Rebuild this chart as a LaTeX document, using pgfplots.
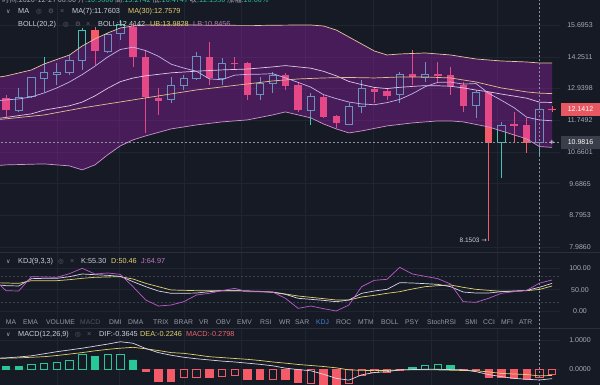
\documentclass[border=0pt]{standalone}
\usepackage{pgfplots}
\pgfplotsset{compat=1.18}
\usepackage{pgfplotstable}
\usepackage{fontspec}
\setmainfont{Liberation Sans}
\newfontfamily\cjk{Noto Sans CJK SC}
\newfontfamily\dv{DejaVu Sans}

\definecolor{bg}{RGB}{22,26,37}
\definecolor{gridc}{RGB}{32,37,50}
\definecolor{sepc}{RGB}{42,47,60}
\definecolor{upc}{RGB}{70,195,185}
\definecolor{dnc}{RGB}{245,90,105}
\definecolor{macdup}{RGB}{40,200,150}
\definecolor{bandc}{RGB}{189,33,207}
\definecolor{ubc}{RGB}{232,196,160}
\definecolor{lbc}{RGB}{205,150,205}
\definecolor{midc}{RGB}{225,200,235}
\definecolor{ma7c}{RGB}{195,180,240}
\definecolor{ma30c}{RGB}{228,190,145}
\definecolor{kc}{RGB}{215,215,235}
\definecolor{dc}{RGB}{226,210,110}
\definecolor{jc}{RGB}{190,90,205}
\definecolor{labc}{RGB}{168,172,185}
\definecolor{txtc}{RGB}{205,208,220}
\definecolor{yelc}{RGB}{226,210,110}
\definecolor{purc}{RGB}{190,120,195}
\definecolor{redc}{RGB}{235,100,110}
\definecolor{iconc}{RGB}{95,100,115}
\definecolor{hairc}{RGB}{140,145,160}
\definecolor{greenc}{RGB}{40,195,150}
\definecolor{redbox}{RGB}{232,88,98}
\definecolor{graybox}{RGB}{58,62,74}
\definecolor{tabc}{RGB}{150,155,170}
\definecolor{tabdim}{RGB}{80,85,100}
\definecolor{tabblue}{RGB}{70,125,220}
\definecolor{dashc}{RGB}{60,65,80}

\pgfplotsset{
  panel/.style={anchor=south west, scale only axis, width=560pt,
    xmin=-0.4724, xmax=43.62,
    axis line style={draw=none}, major tick length=0pt,
    xtick={4,8.9,14,18.5,23.6,28.9,33.5,38.7}, xticklabels={},
    grid=major, major grid style={draw=gridc, line width=0.5pt},
    yticklabel pos=right,
    yticklabel style={font=\fontsize{7}{8}\selectfont, text=labc, anchor=center, xshift=20pt},
  },
}
% candle parts: wick (index, low, high, colour); filled body (index, low, high); hollow body (left, right, low, high)
\newcommand\cwick[4]{\addplot[#4, line width=0.8pt] coordinates {(#1,#2) (#1,#3)};}
\newcommand\cbody[3]{\addplot[dnc, line width=7.4pt] coordinates {(#1,#2) (#1,#3)};}
\newcommand\chol[4]{\addplot[draw=upc, fill=bg, line width=0.8pt] coordinates {(#1,#3) (#2,#3) (#2,#4) (#1,#4)} -- cycle;}
\newcommand\T[4][txtc]{\node[anchor=base west,inner sep=0,text=#1,font=\fontsize{#4}{#4}\selectfont] at (#2) {#3};}

\pgfplotstableread{
i p
-1 13.361
0 13.442
2 13.690
3 13.941
5 14.328
6 14.725
7 15.042
8 15.318
9 15.553
10 15.648
11 15.695
14 15.700
17 15.680
20 15.675
22 15.690
24 15.695
25 15.648
26 15.458
27 15.133
28 14.815
29 14.503
30 14.328
31 14.371
33 14.415
35 14.328
37 14.155
39 14.069
41 14.026
42 13.983
43 13.980
}\ubtab

\pgfplotstableread{
i p
-1 10.227
0 10.258
3 10.289
5 10.227
6 10.104
7 10.258
8 10.575
9 10.868
10 11.068
11 11.203
13 11.444
15 11.583
17 11.690
19 11.761
21 11.941
22 12.050
23 11.941
24 11.833
25 11.618
26 11.444
27 11.305
28 11.374
30 11.548
32 11.654
34 11.725
35 11.725
36 11.690
38 11.513
39 11.374
40 11.237
41 11.102
42 10.846
43 10.820
}\lbtab

\pgfplotstableread{
i p
-1 11.794
0 11.850
2 11.980
3 12.115
5 12.278
6 12.415
7 12.650
8 12.947
9 13.211
10 13.358
11 13.449
13 13.570
15 13.639
17 13.693
19 13.728
21 13.818
22 13.873
23 13.818
24 13.764
25 13.633
26 13.451
27 13.219
28 13.095
29 12.982
30 12.938
31 12.986
32 13.022
33 13.053
34 13.048
35 13.027
36 12.965
37 12.878
38 12.812
39 12.722
40 12.644
41 12.564
42 12.414
43 12.400
}\midtab

\pgfplotstableread{
i p
-1 12.459
0 12.497
1 12.535
2 12.612
3 12.766
4 12.961
5 13.199
6 13.499
7 13.848
8 14.237
9 14.569
10 14.672
11 14.521
12 14.272
13 13.933
14 13.769
15 13.636
16 13.324
17 13.288
18 13.475
19 13.508
20 13.516
21 13.536
22 13.365
23 13.183
24 12.993
25 12.700
26 12.548
27 12.418
28 12.346
29 12.317
30 12.395
31 12.517
32 12.736
33 13.009
34 13.183
35 13.195
36 13.113
37 13.136
38 12.752
39 12.486
40 12.208
41 11.858
42 11.760
43 11.730
}\maseven

\pgfplotstableread{
i p
-1 11.760
0 11.800
3 11.940
6 12.197
9 12.421
11 12.574
13 12.728
15 12.883
17 13.001
19 13.120
21 13.240
23 13.320
25 13.361
27 13.381
29 13.361
31 13.401
33 13.401
35 13.361
36 13.280
37 13.199
38 13.080
39 12.961
40 12.883
41 12.805
42 12.758
43 12.740
}\mathirty

\pgfplotstableread{
i K D J
-1 62 66 75
0 59.2 65.3 47.6
1 58.4 64.5 46.8
2 75.3 70.7 79.9
3 76.1 70.7 79.2
4 76.1 70.7 78.4
5 79.9 73.0 86.9
6 86.1 76.1 99.2
7 84.5 78.4 86.1
8 83.0 79.2 88.4
9 80.7 79.9 85.3
10 68.4 74.5 56.8
11 56.8 64.5 26.1
12 46.8 56.8 12.2
13 41.5 49.2 14.5
14 41.5 48.4 22.2
15 42.2 47.6 37.6
16 45.3 47.6 41.5
17 47.6 47.6 47.6
18 47.6 47.6 53.0
19 46.8 46.8 45.3
20 45.3 46.1 45.3
21 43.8 44.5 44.5
22 39.2 39.9 30.0
23 30.0 35.3 6.8
24 27.6 32.2 12.2
25 25.3 29.2 6.1
26 22.2 26.1 0.7
27 26.1 26.1 14.5
28 41.5 33.0 56.8
29 46.8 36.8 71.5
30 50.7 41.5 73.8
31 66.1 45.3 101.5
32 65.3 51.5 86.1
33 63.8 56.8 80.7
34 62.2 59.2 75.3
35 56.8 60.7 63.0
36 44.5 55.3 22.2
37 42.2 50.7 20.7
38 42.2 48.4 30.0
39 45.3 46.1 41.5
40 46.8 46.1 45.3
41 48.4 47.6 48.4
42 55.30 50.46 64.97
43 64.5 58.4 72.2
}\kdjtab

\pgfplotstableread{
i DIF DEA
-1 0.37 0.38
0 0.39 0.38
1 0.42 0.39
2 0.46 0.41
3 0.53 0.43
4 0.60 0.47
5 0.66 0.52
6 0.72 0.57
7 0.79 0.63
8 0.86 0.68
9 0.94 0.72
10 0.89 0.75
11 0.71 0.70
12 0.57 0.64
13 0.48 0.57
14 0.41 0.545
15 0.36 0.49
16 0.32 0.43
17 0.28 0.40
18 0.25 0.37
19 0.21 0.34
20 0.17 0.30
21 0.12 0.25
22 0.04 0.21
23 -0.01 0.165
24 -0.05 0.13
25 -0.17 0.095
26 -0.31 0.05
27 -0.37 -0.02
28 -0.19 -0.035
29 -0.11 -0.045
30 -0.08 -0.04
31 -0.02 -0.02
32 -0.01 -0.02
33 0.00 -0.02
34 0.00 -0.02
35 -0.01 -0.03
36 -0.02 -0.04
37 -0.08 -0.05
38 -0.18 -0.09
39 -0.25 -0.14
40 -0.31 -0.16
41 -0.34 -0.18
42 -0.3645 -0.2246
43 -0.32 -0.21
}\macdtab

\begin{document}
\begin{tikzpicture}
\path[use as bounding box] (0pt,0pt) rectangle (600pt,385pt);
\fill[bg] (0pt,0pt) rectangle (600pt,385pt);

% ---------------- main price panel ----------------
\begin{axis}[panel, at={(0pt,133pt)}, height=252pt, ymode=log, ymin=7.8728, ymax=16.935,
  ytick={7.9860,8.7953,9.6865,10.6601,11.7492,12.9398,14.2511,15.6953},
  yticklabels={7.9860,8.7953,9.6865,10.6601,11.7492,12.9398,14.2511,15.6953}]
\cwick{0}{11.87}{12.69}{dnc}\cbody{0}{12.12}{12.59}
\cwick{1}{12.05}{12.96}{upc}\chol{0.71}{1.29}{12.12}{12.59}
\cwick{2}{12.57}{13.40}{upc}\chol{1.71}{2.29}{12.62}{13.37}
\cwick{3}{12.80}{14.24}{upc}\chol{2.71}{3.29}{13.36}{13.57}
\cwick{4}{13.08}{13.98}{upc}\chol{3.71}{4.29}{13.52}{13.57}
\cwick{5}{13.48}{14.33}{upc}\chol{4.71}{5.29}{13.60}{14.08}
\cwick{6}{13.69}{15.55}{upc}\chol{5.71}{6.29}{14.08}{15.46}
\cwick{7}{13.90}{15.60}{dnc}\cbody{7}{14.50}{15.46}
\cwick{8}{14.42}{15.32}{upc}\chol{7.71}{8.29}{14.50}{15.27}
\cwick{9}{15.00}{15.94}{upc}\chol{8.71}{9.29}{15.30}{15.70}
\cwick{10}{13.82}{15.79}{dnc}\cbody{10}{14.25}{15.61}
\cwick{11}{11.31}{14.55}{dnc}\cbody{11}{12.62}{14.25}
\cwick{12}{11.94}{12.96}{dnc}\cbody{12}{12.47}{12.56}
\cwick{13}{12.38}{13.40}{upc}\chol{12.71}{13.29}{12.50}{13.08}
\cwick{14}{12.88}{13.48}{upc}\chol{13.71}{14.29}{13.08}{13.35}
\cwick{15}{13.28}{14.46}{upc}\chol{14.71}{15.29}{13.35}{14.25}
\cwick{16}{13.08}{14.91}{dnc}\cbody{16}{13.35}{14.25}
\cwick{17}{13.08}{14.20}{upc}\chol{16.71}{17.29}{13.35}{13.98}
\cwick{18}{13.69}{14.24}{dnc}\cbody{18}{13.92}{14.00}
\cwick{19}{12.50}{14.03}{dnc}\cbody{19}{12.69}{13.97}
\cwick{20}{12.50}{13.40}{upc}\chol{19.71}{20.29}{12.69}{13.15}
\cwick{21}{12.77}{13.61}{upc}\chol{20.71}{21.29}{13.15}{13.48}
\cwick{22}{12.88}{13.57}{dnc}\cbody{22}{13.04}{13.48}
\cwick{23}{12.05}{13.16}{dnc}\cbody{23}{12.12}{13.08}
\cwick{24}{11.58}{12.77}{upc}\chol{23.71}{24.29}{12.12}{12.62}
\cwick{25}{11.83}{12.69}{dnc}\cbody{25}{11.88}{12.62}
\cwick{26}{11.48}{11.94}{dnc}\cbody{26}{11.64}{11.91}
\cwick{27}{11.58}{12.38}{upc}\chol{26.71}{27.29}{11.61}{12.25}
\cwick{28}{12.01}{13.28}{upc}\chol{27.71}{28.29}{12.25}{12.95}
\cwick{29}{12.38}{13.01}{dnc}\cbody{29}{12.82}{12.92}
\cwick{30}{12.50}{12.96}{dnc}\cbody{30}{12.66}{12.84}
\cwick{31}{12.38}{13.62}{upc}\chol{30.71}{31.29}{12.69}{13.51}
\cwick{32}{13.08}{14.55}{dnc}\cbody{32}{13.41}{13.51}
\cwick{33}{13.21}{14.04}{upc}\chol{32.71}{33.29}{13.37}{13.51}
\cwick{34}{13.21}{14.04}{dnc}\cbody{34}{13.44}{13.51}
\cwick{35}{12.69}{13.83}{dnc}\cbody{35}{13.05}{13.48}
\cwick{36}{12.06}{13.21}{dnc}\cbody{36}{12.28}{13.08}
\cwick{37}{11.83}{12.88}{upc}\chol{36.71}{37.29}{12.28}{12.79}
\cwick{38}{8.1503}{12.82}{dnc}\cbody{38}{10.98}{12.79}
\cwick{39}{9.86}{11.70}{upc}\chol{38.71}{39.29}{10.98}{11.58}
\cwick{40}{10.98}{12.06}{dnc}\cbody{40}{11.55}{11.61}
\cwick{41}{10.65}{11.83}{dnc}\cbody{41}{10.98}{11.58}
\cwick{42}{10.58}{12.37}{upc}\chol{41.71}{42.29}{10.98}{12.14}
\cwick{43}{12.05}{12.27}{dnc}\cbody{43}{12.12}{12.16}
% Bollinger band area (upper band forward, lower band back)
\addplot[fill=bandc, fill opacity=0.3, draw=none] coordinates {
(-1,13.361) (0,13.442) (2,13.690) (3,13.941) (5,14.328) (6,14.725) (7,15.042) (8,15.318)
(9,15.553) (10,15.648) (11,15.695) (14,15.700) (17,15.680) (20,15.675) (22,15.690) (24,15.695)
(25,15.648) (26,15.458) (27,15.133) (28,14.815) (29,14.503) (30,14.328) (31,14.371) (33,14.415)
(35,14.328) (37,14.155) (39,14.069) (41,14.026) (42,13.983) (43,13.980)
(43,10.820) (42,10.846) (41,11.102) (40,11.237) (39,11.374) (38,11.513) (36,11.690) (35,11.725)
(34,11.725) (32,11.654) (30,11.548) (28,11.374) (27,11.305) (26,11.444) (25,11.618) (24,11.833)
(23,11.941) (22,12.050) (21,11.941) (19,11.761) (17,11.690) (15,11.583) (13,11.444) (11,11.203)
(10,11.068) (9,10.868) (8,10.575) (7,10.258) (6,10.104) (5,10.227) (3,10.289) (0,10.258) (-1,10.227)} -- cycle;
\addplot[ubc, line width=0.7pt] table[x=i,y=p] {\ubtab};
\addplot[lbc, line width=0.7pt] table[x=i,y=p] {\lbtab};
\addplot[midc, line width=0.7pt] table[x=i,y=p] {\midtab};
\addplot[ma30c, line width=0.7pt] table[x=i,y=p] {\mathirty};
\addplot[ma7c, line width=0.7pt] table[x=i,y=p] {\maseven};
\addplot[hairc, line width=0.5pt, dash pattern=on 2pt off 2pt] coordinates {(-1,10.9816) (44,10.9816)};
\end{axis}

% ---------------- KDJ panel ----------------
\begin{axis}[panel, at={(0pt,67pt)}, height=66pt, ymin=-15.46, ymax=136.86,
  ytick={0,50,100}, yticklabels={0.00,50.00,100.00}]
\addplot[dashc, line width=0.5pt, dash pattern=on 2pt off 2pt] coordinates {(-1,80) (44,80)};
\addplot[dashc, line width=0.5pt, dash pattern=on 2pt off 2pt] coordinates {(-1,20) (44,20)};
\addplot[dc, line width=0.7pt] table[x=i,y=D] {\kdjtab};
\addplot[kc, line width=0.7pt] table[x=i,y=K] {\kdjtab};
\addplot[jc, line width=0.7pt] table[x=i,y=J] {\kdjtab};
\end{axis}

% ---------------- MACD panel ----------------
\begin{axis}[panel, at={(0pt,0pt)}, height=57pt, ymin=-0.5358, ymax=1.4096,
  ytick={0,1}, yticklabels={0.0000,1.0000}]
\addplot[ybar, bar width=0.58, bar shift=0pt, draw=macdup, fill=macdup, line width=0.7pt]
  coordinates {(0,0.09) (1,0.09) (7,0.43) (10,0.32) (32,0.07) (35,0.14)};
\addplot[ybar, bar width=0.58, bar shift=0pt, draw=macdup, fill=bg, line width=0.7pt]
  coordinates {(2,0.17) (3,0.20) (4,0.23) (5,0.30) (6,0.52) (8,0.52) (9,0.52) (33,0.14) (34,0.17)};
\addplot[ybar, bar width=0.58, bar shift=0pt, draw=dnc, fill=dnc, line width=0.7pt]
  coordinates {(11,-0.08) (12,-0.40) (13,-0.40) (16,-0.27) (19,-0.34) (20,-0.34) (22,-0.34) (23,-0.45) (25,-0.53) (26,-0.53) (38,-0.27) (39,-0.27) (40,-0.30) (41,-0.36)};
\addplot[ybar, bar width=0.58, bar shift=0pt, draw=dnc, fill=bg, line width=0.7pt]
  coordinates {(14,-0.27) (15,-0.27) (17,-0.23) (18,-0.19) (21,-0.34) (24,-0.48) (27,-0.48) (28,-0.19) (29,-0.11) (30,-0.11) (31,-0.05) (36,-0.03) (37,-0.05) (42,-0.2798) (43,-0.16)};
\addplot[dc, line width=0.7pt] table[x=i,y=DEA] {\macdtab};
\addplot[kc, line width=0.7pt] table[x=i,y=DIF] {\macdtab};
\end{axis}

\begin{scope}[x=1pt,y=1pt]
% separators and crosshair
\draw[sepc, line width=0.6pt] (0,133) -- (600,133);
\draw[sepc, line width=0.6pt] (0,57) -- (600,57);
\draw[hairc, line width=0.5pt, dash pattern=on 2pt off 2pt] (539.4,0) -- (539.4,385);

% price boxes
\node[fill=redbox, text=white, minimum width=39pt, minimum height=12.5pt, inner sep=0,
  font=\fontsize{7}{8}\selectfont] at (580.5,275.7) {12.1412};
\node[fill=graybox, text=white, minimum width=39pt, minimum height=12.5pt, inner sep=0,
  font=\fontsize{7}{8}\selectfont] at (580.5,242.5) {10.9816};
\node[text=white, inner sep=0, font=\fontsize{9}{9}\selectfont] at (552,242.5) {+};
\node[anchor=east, inner sep=0, text=txtc, font=\fontsize{6.5}{7}\selectfont] at (487,145) {8.1503 {\dv →}};

% header (cut at top, as in the screenshot)
\node[anchor=base west, inner sep=0, font=\fontsize{7.3}{8}\selectfont] at (2,382.5)
  {\cjk\color{labc}时间:2020-12-27 08:00 开:\color{greenc}10.9806 \color{labc}高:\color{greenc}13.2742 \color{labc}低:\color{greenc}10.4747 \color{labc}收:\color{greenc}12.1350 \color{labc}涨幅:\color{greenc}10.60\%};

% legend row 1
\T[labc]{6,371.4}{\dv ∨}{6}
\T[txtc]{18,371.4}{MA}{7.3}
\T[iconc]{36,371.4}{\dv ◎}{6.5}
\T[iconc]{48,371.4}{\dv ⚙}{6.5}
\T[iconc]{60,371.4}{×}{7.3}
\T[txtc]{72,371.4}{MA(7):11.7603}{7.3}
\T[yelc]{128,371.4}{MA(30):12.7579}{7.3}
% legend row 2
\T[txtc]{18,358.9}{BOLL(20,2)}{7.3}
\T[iconc]{63,358.9}{\dv ◎}{6.5}
\T[iconc]{75,358.9}{\dv ⚙}{6.5}
\T[iconc]{86,358.9}{×}{7.3}
\T[txtc]{98,358.9}{BOLL:12.4142}{7.3}
\T[yelc]{150,358.9}{UB:13.9828}{7.3}
\T[purc]{193,358.9}{LB:10.8456}{7.3}
% KDJ legend
\T[labc]{6,121.4}{\dv ∨}{6}
\T[txtc]{18,121.4}{KDJ(9,3,3)}{7.3}
\T[iconc]{58,121.4}{\dv ◎}{6.5}
\T[iconc]{70,121.4}{×}{7.3}
\T[txtc]{81,121.4}{K:55.30}{7.3}
\T[yelc]{111,121.4}{D:50.46}{7.3}
\T[purc]{141,121.4}{J:64.97}{7.3}
% tab row
\T[tabc]{5.7,60.4}{MA}{6.8}
\T[tabc]{23,60.4}{EMA}{6.8}
\T[tabc]{46,60.4}{VOLUME}{6.8}
\T[tabdim]{80,60.4}{MACD}{6.8}
\T[tabc]{109,60.4}{DMI}{6.8}
\T[tabc]{128,60.4}{DMA}{6.8}
\T[tabc]{153,60.4}{TRIX}{6.8}
\T[tabc]{174,60.4}{BRAR}{6.8}
\T[tabc]{199,60.4}{VR}{6.8}
\T[tabc]{216,60.4}{OBV}{6.8}
\T[tabc]{237,60.4}{EMV}{6.8}
\T[tabc]{260,60.4}{RSI}{6.8}
\T[tabc]{279,60.4}{WR}{6.8}
\T[tabc]{295,60.4}{SAR}{6.8}
\T[tabblue]{316,60.4}{KDJ}{6.8}
\T[tabc]{336,60.4}{ROC}{6.8}
\T[tabc]{358,60.4}{MTM}{6.8}
\T[tabc]{381,60.4}{BOLL}{6.8}
\T[tabc]{405,60.4}{PSY}{6.8}
\T[tabc]{427,60.4}{StochRSI}{6.8}
\T[tabc]{465,60.4}{SMI}{6.8}
\T[tabc]{483,60.4}{CCI}{6.8}
\T[tabc]{501,60.4}{MFI}{6.8}
\T[tabc]{519,60.4}{ATR}{6.8}
% MACD legend
\T[labc]{6,48.4}{\dv ∨}{6}
\T[txtc]{18,48.4}{MACD(12,26,9)}{7.3}
\T[iconc]{75,48.4}{\dv ◎}{6.5}
\T[iconc]{87,48.4}{×}{7.3}
\T[txtc]{99,48.4}{DIF:-0.3645}{7.3}
\T[yelc]{140,48.4}{DEA:-0.2246}{7.3}
\T[redc]{186,48.4}{MACD:-0.2798}{7.3}
\end{scope}
\end{tikzpicture}
\end{document}
